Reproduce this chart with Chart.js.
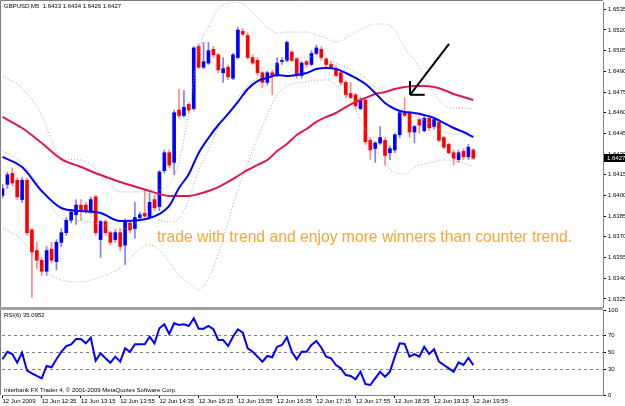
<!DOCTYPE html>
<html>
<head>
<meta charset="utf-8">
<script src="https://cdn.jsdelivr.net/npm/chart.js@4.4.0/dist/chart.umd.min.js"></script>
<style>
body { margin: 0; background: #fff; }
#wrap { position: relative; width: 625px; height: 406px; overflow: hidden; background: #fff; }
#price { position: absolute; left: 0; top: 0; }
#rsi { position: absolute; left: 0; top: 308px; }
</style>
</head>
<body>
<div id="wrap">
<canvas id="price" width="625" height="308"></canvas>
<canvas id="rsi" width="625" height="98"></canvas>
</div>
<script>
var FONT = '"Liberation Sans", Arial, sans-serif';

var symbol = 'GBPUSD,M5';

// 5 minute bars, 11:55 .. 19:55
var opens = [
    1.6400, 1.6408, 1.6416, 1.6411, 1.6397, 1.6411, 1.6375, 1.6360, 1.6353, 1.6345,
    1.6361, 1.6352, 1.6366, 1.6373, 1.6382, 1.6386, 1.6393, 1.6393, 1.6389, 1.6399,
    1.6368, 1.6381, 1.6373, 1.6368, 1.6373, 1.6364, 1.6380, 1.6376, 1.6384, 1.6387,
    1.6384, 1.6397, 1.6392, 1.6418, 1.6431, 1.6424, 1.6462, 1.6458, 1.6466, 1.6463,
    1.6508, 1.6493, 1.6496, 1.6506, 1.6502, 1.6489, 1.6493, 1.6485, 1.6500, 1.6519,
    1.6516, 1.6500, 1.6498, 1.6489, 1.6482, 1.6489, 1.6487, 1.6497, 1.6498, 1.6504,
    1.6499, 1.6487, 1.6497, 1.6495, 1.6503, 1.6506, 1.6499, 1.6495, 1.6492, 1.6489,
    1.6482, 1.6474, 1.6473, 1.6463, 1.6469, 1.6440, 1.6434, 1.6438, 1.6440, 1.6431,
    1.6433, 1.6444, 1.6460, 1.6460, 1.6446, 1.6455, 1.6447, 1.6456, 1.6450, 1.6453,
    1.6442, 1.6437, 1.6431, 1.6426, 1.6432, 1.6428, 1.6433,
];
var highs = [
    1.6408, 1.6417, 1.6420, 1.6413, 1.6413, 1.6413, 1.6376, 1.6366, 1.6355, 1.6363,
    1.6366, 1.6368, 1.6376, 1.6384, 1.6390, 1.6397, 1.6397, 1.6395, 1.6399, 1.6400,
    1.6382, 1.6382, 1.6374, 1.6375, 1.6376, 1.6383, 1.6381, 1.6395, 1.6388, 1.6404,
    1.6402, 1.6400, 1.6418, 1.6433, 1.6433, 1.6462, 1.6477, 1.6476, 1.6467, 1.6508,
    1.6510, 1.6511, 1.6511, 1.6508, 1.6503, 1.6500, 1.6495, 1.6503, 1.6522, 1.6521,
    1.6518, 1.6502, 1.6500, 1.6490, 1.6490, 1.6491, 1.6500, 1.6500, 1.6512, 1.6505,
    1.6500, 1.6497, 1.6498, 1.6505, 1.6509, 1.6508, 1.6500, 1.6497, 1.6494, 1.6490,
    1.6483, 1.6482, 1.6474, 1.6471, 1.6471, 1.6442, 1.6439, 1.6450, 1.6442, 1.6436,
    1.6445, 1.6461, 1.6471, 1.6461, 1.6451, 1.6456, 1.6458, 1.6458, 1.6456, 1.6455,
    1.6443, 1.6438, 1.6433, 1.6433, 1.6434, 1.6437, 1.6434,
];
var lows = [
    1.6398, 1.6405, 1.6407, 1.6397, 1.6395, 1.6371, 1.6326, 1.6347, 1.6342, 1.6342,
    1.6351, 1.6346, 1.6363, 1.6371, 1.6380, 1.6379, 1.6382, 1.6387, 1.6387, 1.6371,
    1.6355, 1.6371, 1.6364, 1.6366, 1.6360, 1.6350, 1.6373, 1.6369, 1.6382, 1.6384,
    1.6383, 1.6389, 1.6389, 1.6416, 1.6420, 1.6415, 1.6456, 1.6457, 1.6460, 1.6462,
    1.6492, 1.6492, 1.6495, 1.6500, 1.6489, 1.6482, 1.6484, 1.6484, 1.6499, 1.6516,
    1.6499, 1.6495, 1.6487, 1.6478, 1.6480, 1.6473, 1.6486, 1.6495, 1.6497, 1.6497,
    1.6485, 1.6485, 1.6493, 1.6494, 1.6502, 1.6498, 1.6493, 1.6492, 1.6486, 1.6480,
    1.6471, 1.6470, 1.6463, 1.6462, 1.6437, 1.6426, 1.6424, 1.6437, 1.6422, 1.6426,
    1.6431, 1.6442, 1.6457, 1.6442, 1.6438, 1.6445, 1.6446, 1.6447, 1.6448, 1.6439,
    1.6434, 1.6430, 1.6422, 1.6424, 1.6426, 1.6426, 1.6426,
];
var closes = [
    1.6405, 1.6415, 1.6409, 1.6399, 1.6411, 1.6373, 1.6359, 1.6353, 1.6345, 1.6360,
    1.6353, 1.6366, 1.6373, 1.6382, 1.6388, 1.6393, 1.6389, 1.6389, 1.6397, 1.6373,
    1.6381, 1.6373, 1.6366, 1.6373, 1.6363, 1.6381, 1.6375, 1.6384, 1.6386, 1.6385,
    1.6395, 1.6391, 1.6417, 1.6431, 1.6422, 1.6460, 1.6458, 1.6464, 1.6462, 1.6507,
    1.6493, 1.6497, 1.6505, 1.6502, 1.6491, 1.6492, 1.6486, 1.6502, 1.6520, 1.6517,
    1.6500, 1.6496, 1.6489, 1.6482, 1.6489, 1.6487, 1.6496, 1.6498, 1.6511, 1.6498,
    1.6487, 1.6496, 1.6495, 1.6503, 1.6507, 1.6500, 1.6495, 1.6493, 1.6487, 1.6482,
    1.6473, 1.6471, 1.6465, 1.6469, 1.6439, 1.6433, 1.6438, 1.6442, 1.6429, 1.6434,
    1.6444, 1.6460, 1.6458, 1.6446, 1.6450, 1.6451, 1.6456, 1.6449, 1.6455, 1.6440,
    1.6435, 1.6431, 1.6427, 1.6431, 1.6428, 1.6435, 1.6427,
];

// indicator lines, read at these bars
var lineBars = [0, 4, 8, 12, 16, 20, 24, 28, 30, 32, 34, 36, 38, 40, 42, 44, 46, 48, 50, 52, 54,
                56, 58, 60, 62, 64, 66, 68, 70, 72, 74, 76, 78, 80, 82, 84, 86, 88, 90, 92, 94, 96];
var blueMa = [
    1.64279, 1.64206, 1.64032, 1.63909, 1.63887, 1.63873, 1.63815, 1.63822, 1.63837, 1.63866,
    1.63924, 1.64054, 1.64156, 1.64308, 1.64417, 1.64511, 1.64591, 1.64678, 1.64772, 1.64830,
    1.64852, 1.64873, 1.64866, 1.64873, 1.64888, 1.64917, 1.64924, 1.64917, 1.64888, 1.64852,
    1.64808, 1.64743, 1.64670, 1.64627, 1.64605, 1.64598, 1.64583, 1.64562, 1.64525, 1.64489,
    1.64460, 1.64424,
];
var redMa = [
    1.64569, 1.64489, 1.64380, 1.64264, 1.64206, 1.64148, 1.64098, 1.64054, 1.64032, 1.64011,
    1.63996, 1.63996, 1.63996, 1.64011, 1.64032, 1.64061, 1.64098, 1.64141, 1.64185, 1.64221,
    1.64257, 1.64322, 1.64373, 1.64438, 1.64482, 1.64533, 1.64569, 1.64598, 1.64641, 1.64678,
    1.64707, 1.64736, 1.64750, 1.64772, 1.64786, 1.64794, 1.64794, 1.64786, 1.64765, 1.64736,
    1.64714, 1.64692,
];
var bandUpper = [
    1.64866, 1.64779, 1.64583, 1.64272, 1.64257, 1.64163, 1.64025, 1.64025, 1.64040, 1.64040,
    1.64083, 1.64243, 1.64605, 1.65055, 1.65221, 1.65352, 1.65395, 1.65403, 1.65359, 1.65287,
    1.65221, 1.65178, 1.65185, 1.65185, 1.65185, 1.65163, 1.65142, 1.65113, 1.65142, 1.65185,
    1.65221, 1.65243, 1.65243, 1.65200, 1.65069, 1.64982, 1.64866, 1.64743, 1.64656, 1.64634,
    1.64634, 1.64627,
];
var bandMiddle = [
    1.64322, 1.64235, 1.64040, 1.63837, 1.63815, 1.63793, 1.63750, 1.63815, 1.63837, 1.63822,
    1.63808, 1.63837, 1.63967, 1.64185, 1.64330, 1.64489, 1.64591, 1.64707, 1.64794, 1.64852,
    1.64910, 1.64953, 1.64989, 1.64997, 1.65004, 1.65004, 1.64989, 1.64960, 1.64931, 1.64895,
    1.64852, 1.64786, 1.64743, 1.64678, 1.64620, 1.64591, 1.64547, 1.64504, 1.64460, 1.64446,
    1.64438, 1.64424,
];
var bandLower = [
    1.63764, 1.63677, 1.63474, 1.63387, 1.63373, 1.63409, 1.63474, 1.63612, 1.63641, 1.63605,
    1.63518, 1.63423, 1.63365, 1.63315, 1.63402, 1.63576, 1.63808, 1.64040, 1.64235, 1.64417,
    1.64583, 1.64728, 1.64794, 1.64815, 1.64823, 1.64837, 1.64837, 1.64801, 1.64728, 1.64620,
    1.64475, 1.64330, 1.64243, 1.64163, 1.64156, 1.64206, 1.64228, 1.64243, 1.64257, 1.64250,
    1.64235, 1.64206,
];

var rsi = [
    42.0, 50.9, 48.2, 38.0, 49.8, 28.6, 25.5, 22.4, 19.6, 34.1,
    32.6, 42.0, 50.9, 57.6, 59.6, 65.9, 65.9, 60.8, 67.4, 40.4,
    49.1, 43.2, 38.0, 45.1, 39.2, 54.9, 50.9, 59.6, 59.6, 59.6,
    68.6, 60.8, 78.5, 83.2, 71.8, 84.4, 82.4, 83.2, 81.2, 90.2,
    78.0, 78.0, 81.2, 77.3, 64.7, 64.7, 57.6, 68.6, 77.3, 73.3,
    54.9, 50.9, 45.1, 39.2, 45.9, 44.4, 56.8, 58.8, 67.9, 50.9,
    42.0, 50.9, 50.9, 58.8, 63.5, 55.9, 45.1, 43.2, 35.3, 31.4,
    23.5, 22.4, 18.5, 27.4, 12.9, 11.8, 19.6, 27.4, 21.5, 27.4,
    45.1, 60.8, 60.0, 45.1, 48.2, 45.1, 56.8, 48.2, 53.8, 39.2,
    35.3, 31.4, 27.4, 38.5, 35.3, 43.9, 35.0952,
];

var priceTicks = [1.6325, 1.6340, 1.6355, 1.6370, 1.6385, 1.6400, 1.6415, 1.6430,
                  1.6445, 1.6460, 1.6475, 1.6490, 1.6505, 1.6520, 1.6535];
var rsiTicks = [0, 30, 50, 70, 100];
var rsiLevels = [30, 50, 70];
var timeTickBars = [0, 8, 16, 24, 32, 40, 48, 56, 64, 72, 80, 88, 96];
var timeTickLabels = ['12 Jun 2009', '12 Jun 12:35', '12 Jun 13:15', '12 Jun 13:55', '12 Jun 14:35',
                      '12 Jun 15:15', '12 Jun 15:55', '12 Jun 16:35', '12 Jun 17:15', '12 Jun 17:55',
                      '12 Jun 18:35', '12 Jun 19:15', '12 Jun 19:55'];

var noteText = 'trade with trend and enjoy more winners than counter trend.';
var copyText = 'Interbank FX Trader 4, \u00a9 2001-2009 MetaQuotes Software Corp.';

// visible window: a few empty bars are kept on the right, like the terminal does
var X_MIN = -0.1, X_MAX = 122.45;

function isUp(i) {
    return closes[i] >= opens[i];
}

function lineSeries(values) {
    var data = [];
    for(var k = 0; k < lineBars.length; k++) {
        data.push({x: lineBars[k], y: values[k]});
    }
    return data;
}

function lineDataset(values, color, width, dash, order) {
    return {
        type: 'line',
        data: lineSeries(values),
        borderColor: color,
        borderWidth: width,
        borderDash: dash,
        pointRadius: 0,
        cubicInterpolationMode: 'monotone',
        order: order,
    };
}

function arrowDataset(points) {
    return {
        type: 'line',
        data: points,
        borderColor: '#000',
        borderWidth: 2,
        pointRadius: 0,
        order: 0,
    };
}

var bodies = [], wicks = [], bodyColors = [], wickColors = [];
for(var i = 0; i < opens.length; i++) {
    bodies.push({x: i, y: [opens[i], closes[i]]});
    wicks.push({x: i, y: [lows[i], highs[i]]});
    bodyColors.push(isUp(i) ? '#0000ff' : '#ff0000');
    wickColors.push(isUp(i) ? 'rgba(40,40,255,0.6)' : 'rgba(255,40,40,0.55)');
}

// arrow pointing at the failed retest, in bar / price units
var arrowTail = {x: 91.05, y: 1.6510};
var arrowTip = {x: 83.1, y: 1.6473};

var last = opens.length - 1;
var header = symbol + '  ' + [opens[last], highs[last], lows[last], closes[last]]
    .map(function(v) { return v.toFixed(4); }).join(' ');

var priceDecor = {
    id: 'priceDecor',
    afterDraw: function(chart) {
        var ctx = chart.ctx, area = chart.chartArea;
        var xs = chart.scales.x, ys = chart.scales.y;
        ctx.save();
        ctx.strokeStyle = '#808080';
        ctx.lineWidth = 1;
        ctx.beginPath();
        ctx.moveTo(0.5, area.bottom);
        ctx.lineTo(0.5, 0.5);
        ctx.lineTo(area.right, 0.5);
        ctx.stroke();
        ctx.fillStyle = '#a0a0a0';
        ctx.fillRect(0, area.bottom, area.right, 1);

        ctx.fillStyle = '#000';
        ctx.font = '6px ' + FONT;
        ctx.textAlign = 'left';
        ctx.textBaseline = 'middle';
        ctx.fillText(header, 4, 6.5);

        ctx.fillStyle = '#f8a630';
        ctx.font = '15.7px ' + FONT;
        ctx.textBaseline = 'alphabetic';
        ctx.fillText(noteText, xs.getPixelForValue(31.5), ys.getPixelForValue(1.6366));

        var py = Math.round(ys.getPixelForValue(closes[last]));
        ctx.fillStyle = '#000';
        ctx.fillRect(area.right + 1, py - 4, chart.width - area.right - 1, 8);
        ctx.fillStyle = '#fff';
        ctx.font = '6px ' + FONT;
        ctx.textBaseline = 'middle';
        ctx.fillText(closes[last].toFixed(4), area.right + 4, py);
        ctx.restore();
    }
};

var rsiDecor = {
    id: 'rsiDecor',
    afterDraw: function(chart) {
        var ctx = chart.ctx, area = chart.chartArea;
        ctx.save();
        ctx.fillStyle = '#a0a0a0';
        ctx.fillRect(0, 0, area.right, 2);
        ctx.strokeStyle = '#808080';
        ctx.lineWidth = 1;
        ctx.beginPath();
        ctx.moveTo(0.5, area.top);
        ctx.lineTo(0.5, area.bottom);
        ctx.stroke();
        ctx.fillStyle = '#000';
        ctx.font = '6px ' + FONT;
        ctx.textAlign = 'left';
        ctx.textBaseline = 'middle';
        ctx.fillText('RSI(6) ' + rsi[rsi.length - 1].toFixed(4), 4, 7);
        ctx.fillText(copyText, 4, 82.5);
        ctx.restore();
    }
};

new Chart(document.getElementById('price').getContext('2d'), {
    type: 'bar',
    data: {
        datasets: [
            {type: 'bar', data: wicks, backgroundColor: wickColors, barThickness: 1,
             grouped: false, borderWidth: 0, order: 6},
            {type: 'bar', data: bodies, backgroundColor: bodyColors, barThickness: 3,
             grouped: false, borderWidth: 0, minBarLength: 1, order: 5},
            lineDataset(bandUpper, '#a8a8a8', 1, [1, 2], 4),
            lineDataset(bandMiddle, '#a8a8a8', 1, [1, 2], 4),
            lineDataset(bandLower, '#a8a8a8', 1, [1, 2], 4),
            lineDataset(redMa, '#e0174a', 2, [], 3),
            lineDataset(blueMa, '#0000ff', 2, [], 2),
            arrowDataset([arrowTail, arrowTip]),
            arrowDataset([arrowTip, {x: arrowTip.x, y: 1.6483}]),
            arrowDataset([arrowTip, {x: 86.1, y: arrowTip.y}]),
        ],
    },
    options: {
        responsive: false,
        animation: false,
        events: [],
        layout: {padding: {left: 2, top: 2, right: 0, bottom: 1}},
        plugins: {legend: {display: false}, tooltip: {enabled: false}},
        scales: {
            x: {
                type: 'linear',
                display: false,
                min: X_MIN,
                max: X_MAX,
                offset: false,
            },
            y: {
                position: 'right',
                min: 1.63191,
                max: 1.65403,
                afterBuildTicks: function(s) {
                    s.ticks = priceTicks.map(function(v) { return {value: v}; });
                },
                afterFit: function(s) {
                    s.width = 22;
                    s.paddingTop = 0;
                    s.paddingBottom = 0;
                },
                ticks: {
                    font: {size: 6, family: FONT},
                    color: '#000',
                    padding: 2,
                    callback: function(v) { return v.toFixed(4); },
                },
                grid: {drawOnChartArea: false, tickLength: 3, tickColor: '#000'},
                border: {color: '#808080'},
            },
        },
    },
    plugins: [priceDecor],
});

new Chart(document.getElementById('rsi').getContext('2d'), {
    type: 'line',
    data: {
        datasets: [{
            data: rsi.map(function(v, i) { return {x: i, y: v}; }),
            borderColor: '#0000ff',
            borderWidth: 2,
            pointRadius: 0,
            tension: 0,
        }],
    },
    options: {
        responsive: false,
        animation: false,
        events: [],
        layout: {padding: {left: 2, top: 2, right: 0, bottom: 0}},
        plugins: {legend: {display: false}, tooltip: {enabled: false}},
        scales: {
            x: {
                type: 'linear',
                min: X_MIN,
                max: X_MAX,
                afterBuildTicks: function(s) {
                    s.ticks = timeTickBars.map(function(v) { return {value: v}; });
                },
                afterFit: function(s) {
                    s.height = 11;
                    s.paddingLeft = 0;
                    s.paddingRight = 0;
                },
                ticks: {
                    font: {size: 6, family: FONT},
                    color: '#000',
                    align: 'start',
                    padding: 0,
                    maxRotation: 0,
                    autoSkip: false,
                    callback: function(v) { return timeTickLabels[timeTickBars.indexOf(v)]; },
                },
                grid: {drawOnChartArea: false, tickLength: 3, tickColor: '#000'},
                border: {color: '#808080'},
            },
            y: {
                position: 'right',
                min: 0,
                max: 100,
                afterBuildTicks: function(s) {
                    s.ticks = rsiTicks.map(function(v) { return {value: v}; });
                },
                afterFit: function(s) {
                    s.width = 22;
                    s.paddingTop = 0;
                    s.paddingBottom = 0;
                },
                ticks: {font: {size: 6, family: FONT}, color: '#000', padding: 2},
                grid: {
                    color: function(c) {
                        return rsiLevels.indexOf(c.tick && c.tick.value) >= 0 ? '#808080' : 'rgba(0,0,0,0)';
                    },
                    tickLength: 3,
                    tickColor: '#000',
                },
                border: {color: '#808080', dash: [3, 3]},
            },
        },
    },
    plugins: [rsiDecor],
});
</script>
</body>
</html>
